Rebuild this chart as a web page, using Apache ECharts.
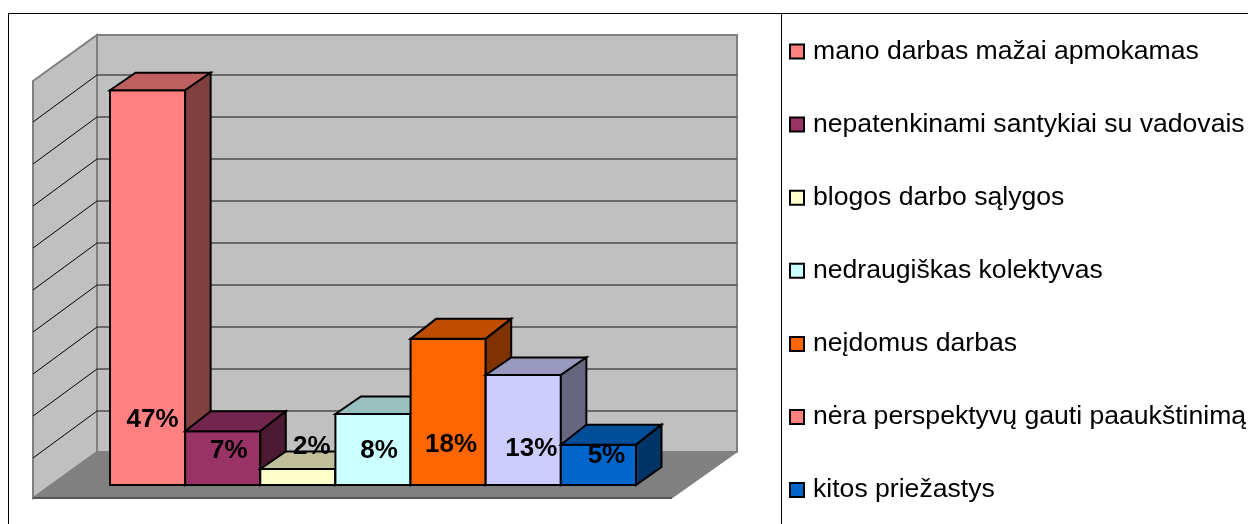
<!DOCTYPE html>
<html lang="lt">
<head>
  <meta charset="UTF-8">
  <title>Priežastys</title>
  <style>
    html,body{margin:0;padding:0;background:#fff;}
    #main{width:1248px;height:524px;}
  </style>
</head>
<body>
  <div id="main"></div>
  <script src="https://cdn.jsdelivr.net/npm/echarts@6/dist/echarts.min.js"></script>
  <script>
    const categories=['mano darbas mažai apmokamas','nepatenkinami santykiai su vadovais','blogos darbo sąlygos','nedraugiškas kolektyvas','neįdomus darbas','nėra perspektyvų gauti paaukštinimą','kitos priežastys'];
    const values=[47,6.4,1.9,8.45,17.4,13.1,4.8];
    const valueLabels=['47%','7%','2%','8%','18%','13%','5%'];
    const yTicks=[0,5,10,15,20,25,30,35,40,45,50];
    const colors=['#ff8080','#993366','#ffffcc','#ccffff','#ff6600','#ccccff','#0066cc'];
    // the sixth legend key is pink in the source even though its bar is lilac
    const legendColors=['#ff8080','#993366','#ffffcc','#ccffff','#ff6600','#ff8080','#0066cc'];

    // label shift from the bar's base centre, px
    const labelShift=[[5,-65],[6,-34],[14,-38],[6,-34],[3,-40],[8,-36],[8,-29]];
    const font='"Liberation Sans",Arial,sans-serif';

    // box depth of a bar, px. the source rounds the top edge differently per bar
    const depthX=25.5;
    const depthBase=18;
    const depthTop=[17.5,20,17.5,17.5,20,17.5,20];

    function shade(hex,k){
      const n=parseInt(hex.slice(1),16);
      const c=[n>>16,(n>>8)&255,n&255].map(v=>Math.round(v*k));
      return 'rgb('+c.join(',')+')';
    }
    function poly(points,fill,stroke,width){
      return {type:'polygon',shape:{points:points},style:{fill:fill,stroke:stroke,lineWidth:width,lineJoin:'miter'}};
    }
    function line(a,b,stroke,width){
      return {type:'line',shape:{x1:a[0],y1:a[1],x2:b[0],y2:b[1]},style:{stroke:stroke,lineWidth:width}};
    }

    // walls and floor, sized from the grid rect and the value axis
    function renderWalls(params,api){
      const rect=params.coordSys;
      const yZero=api.coord([0,0])[1];
      const yTop=api.coord([0,50])[1];
      const frontL=rect.x-77, frontR=rect.x+rect.width+36;
      const backL=rect.x-13, backR=rect.x+rect.width+101;
      const kids=[
        poly([[backL,yTop-30],[backR,yTop-30],[backR,yZero-33],[backL,yZero-33]],'#c0c0c0','#808080',2),
        poly([[frontL,yTop+16],[backL,yTop-30],[backL,yZero-33],[frontL,yZero+13]],'#c0c0c0','#808080',2),
        poly([[frontL,yZero+13],[backL,yZero-33],[backR,yZero-33],[frontR,yZero+13]],'#808080','#808080',1),
        line([frontL,yZero+13],[frontR,yZero+13],'#555555',2)
      ];
      yTicks.slice(1,-1).forEach(t=>{
        const y=api.coord([0,t])[1];
        kids.push(line([backL,y-32],[backR,y-32],'#4d4d4d',1.5));
        kids.push(line([frontL,y+15],[backL,y-32],'#000000',1));
      });
      return {type:'group',children:kids};
    }

    function renderBar(params,api){
      const i=api.value(0);
      const c=colors[i];
      const mid=api.coord([i,0])[0];
      const w=api.size([1,0])[0];
      const x0=mid-w/2, x1=mid+w/2;
      const y0=api.coord([i,0])[1];
      const y1=api.coord([i,api.value(1)])[1];
      const dx=depthX, dt=depthTop[i];
      return {type:'group',children:[
        poly([[x0,y1],[x1,y1],[x1,y0],[x0,y0]],c,'#000',2),
        poly([[x0,y1],[x0+dx,y1-dt],[x1+dx,y1-dt],[x1,y1]],shade(c,0.75),'#000',2),
        poly([[x1,y1],[x1+dx,y1-dt],[x1+dx,y0-depthBase],[x1,y0]],shade(c,0.5),'#000',2)
      ]};
    }

    function renderLabel(params,api){
      const i=api.value(0);
      const p=api.coord([i,0]);
      return {type:'text',style:{
        x:p[0]+labelShift[i][0],y:p[1]+labelShift[i][1],
        text:valueLabels[i],fill:'#000',align:'center',verticalAlign:'middle',
        font:'bold 26px '+font
      }};
    }

    const series=[{type:'custom',name:'walls',z:1,silent:true,renderItem:renderWalls,data:[[0,0]],encode:{x:0,y:1}}];
    categories.forEach((name,i)=>{
      series.push({
        type:'custom',name:name,z:2+i,renderItem:renderBar,
        itemStyle:{color:colors[i]},
        data:[[i,values[i]]],encode:{x:0,y:1}
      });
    });
    series.push({type:'custom',name:'labels',z:20,silent:true,renderItem:renderLabel,
      data:values.map((v,i)=>[i,v]),encode:{x:0,y:1}});

    const chart=echarts.init(document.querySelector('#main'));
    chart.setOption({
      animation:false,
      backgroundColor:'#fff',
      tooltip:{show:false},
      grid:{left:110,top:65,width:526,height:420},
      xAxis:{type:'category',data:categories,show:false},
      yAxis:{type:'value',min:0,max:50,interval:5,show:false},
      legend:{
        data:categories.map((name,i)=>({name:name,icon:'rect',itemStyle:{color:legendColors[i],borderColor:'#000',borderWidth:2}})),
        orient:'vertical',left:789,top:38,
        itemWidth:14,itemHeight:14,itemGap:46.1,
        selectedMode:false,
        textStyle:{color:'#000',fontFamily:font,fontSize:26.6,lineHeight:24,padding:[0,0,0,4]},
        padding:0
      },
      graphic:[
        {type:'line',shape:{x1:8,y1:13.5,x2:1248,y2:13.5},style:{stroke:'#000',lineWidth:1}},
        {type:'line',shape:{x1:8.5,y1:13,x2:8.5,y2:524},style:{stroke:'#000',lineWidth:1}},
        {type:'line',shape:{x1:781.5,y1:13,x2:781.5,y2:524},style:{stroke:'#000',lineWidth:1}}
      ],
      series:series
    });
  </script>
</body>
</html>
